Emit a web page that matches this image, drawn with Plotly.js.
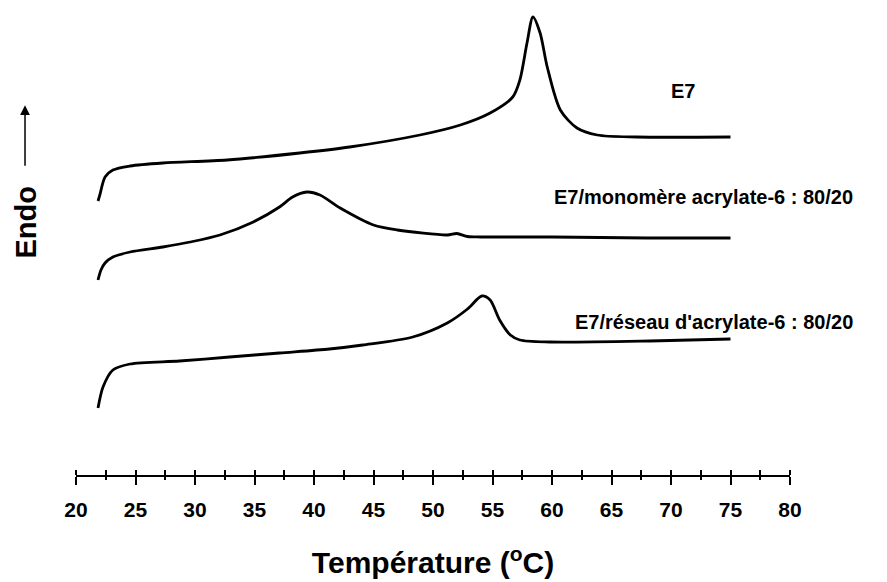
<!DOCTYPE html>
<html>
<head>
<meta charset="utf-8">
<script src="https://cdn.plot.ly/plotly-3.0.1.min.js"></script>
<style>html,body{margin:0;padding:0;background:#fff;}#chart{width:887px;height:582px;}</style>
</head>
<body>
<div id="chart"></div>
<script>
// Temperature (°C) and endothermic heat flow (arbitrary units, offset curves)
const tempE7 = [21.85, 22.0, 22.44, 23.1, 24.54, 27.3, 32.7, 38.8, 43.0, 48.9, 52.3, 54.8, 56.7, 57.3, 57.9, 58.4, 59.0, 59.6, 60.7, 62.1, 63.8, 67.1, 75.0];
const flowE7 = [27.4, 28.0, 29.8, 30.5, 30.9, 31.2, 31.5, 32.2, 32.8, 34.0, 35.0, 36.2, 37.8, 39.5, 43.2, 45.8, 44.2, 40.8, 36.5, 34.7, 34.0, 33.8, 33.8];

const tempMono = [21.85, 22.1, 22.44, 23.1, 24.54, 27.3, 29.6, 32.1, 34.9, 37.1, 38.2, 39.4, 40.5, 42.2, 45.0, 47.0, 51.2, 52.0, 52.9, 54.0, 60.0, 68.0, 75.0];
const flowMono = [19.5, 20.5, 21.2, 21.8, 22.3, 22.8, 23.3, 24.0, 25.3, 26.8, 27.8, 28.3, 28.0, 26.7, 25.0, 24.5, 24.0, 24.15, 23.85, 23.8, 23.8, 23.7, 23.7];

const tempRes = [21.85, 22.27, 23.1, 24.54, 28.7, 32.9, 37.1, 41.3, 44.1, 48.3, 51.2, 52.9, 54.1, 54.8, 55.6, 56.5, 57.3, 59.8, 68.2, 75.0];
const flowRes = [6.7, 8.8, 10.5, 11.1, 11.4, 11.8, 12.2, 12.6, 13.0, 13.8, 15.2, 16.6, 17.9, 17.5, 15.5, 14.0, 13.5, 13.3, 13.4, 13.6];

const seriesNames = ["E7", "E7/monomère acrylate-6 : 80/20", "E7/réseau d'acrylate-6 : 80/20"];

const FONT = "Liberation Sans, Arial, sans-serif";
const lineStyle = {color: "#000", width: 2.8, shape: "spline", smoothing: 0.8};

const traces = [
  {x: tempE7, y: flowE7, name: seriesNames[0], mode: "lines", line: lineStyle},
  {x: tempMono, y: flowMono, name: seriesNames[1], mode: "lines", line: lineStyle},
  {x: tempRes, y: flowRes, name: seriesNames[2], mode: "lines", line: lineStyle},
  // invisible trace that carries the secondary tick axis
  {x: [20], y: [0], xaxis: "x2", mode: "markers", marker: {opacity: 0}, hoverinfo: "skip", showlegend: false}
];

const labelFont = {family: FONT, size: 20, color: "#000"};

const layout = {
  width: 887, height: 582,
  margin: {l: 76, r: 97, t: 10, b: 107},
  paper_bgcolor: "#fff", plot_bgcolor: "#fff",
  showlegend: false,
  font: {family: FONT, color: "#000"},
  xaxis: {
    range: [20, 80], showgrid: false, zeroline: false,
    showline: true, linecolor: "#000", linewidth: 2,
    tick0: 20, dtick: 5, ticks: "outside", ticklen: 8, tickwidth: 2, tickcolor: "#000",
    ticklabelstandoff: 7,
    minor: {dtick: 2.5, tick0: 20, ticks: "inside", ticklen: 5, tickwidth: 2, tickcolor: "#000", showgrid: false},
    tickfont: {family: FONT, size: 21, color: "#000", weight: "bold"},
    title: {text: "<b>Température (<sup>o</sup>C)</b>", font: {family: FONT, size: 30, color: "#000"}, standoff: 32}
  },
  xaxis2: {
    overlaying: "x", anchor: "y", side: "bottom", range: [20, 80],
    showgrid: false, zeroline: false, showline: false, showticklabels: false,
    tick0: 22.5, dtick: 5, ticks: "outside", ticklen: 4, tickwidth: 2, tickcolor: "#000"
  },
  yaxis: {
    range: [0, 46.5], visible: false, showgrid: false, zeroline: false
  },
  annotations: [
    {xref: "x", yref: "y", x: 71.0, y: 38.4, text: "<b>" + seriesNames[0] + "</b>", showarrow: false,
     xanchor: "center", yanchor: "middle", font: labelFont},
    {xref: "paper", yref: "y", x: 1.091, y: 27.8, text: "<b>" + seriesNames[1] + "</b>", showarrow: false,
     xanchor: "right", yanchor: "middle", font: labelFont},
    {xref: "paper", yref: "y", x: 1.091, y: 15.3, text: "<b>" + seriesNames[2] + "</b>", showarrow: false,
     xanchor: "right", yanchor: "middle", font: labelFont},
    {xref: "paper", yref: "paper", x: -0.0714, y: 0.543, text: "<b>Endo</b>", showarrow: false, textangle: -90,
     xanchor: "center", yanchor: "middle", font: {family: FONT, size: 29, color: "#000"}},
    {xref: "paper", yref: "paper", x: -0.0714, y: 0.795, ax: 0, ay: 62,
     text: "", showarrow: true, arrowhead: 2, arrowsize: 1.3, arrowwidth: 1.5, arrowcolor: "#000"}
  ]
};

Plotly.newPlot("chart", traces, layout, {displayModeBar: false, staticPlot: true});
</script>
</body>
</html>
